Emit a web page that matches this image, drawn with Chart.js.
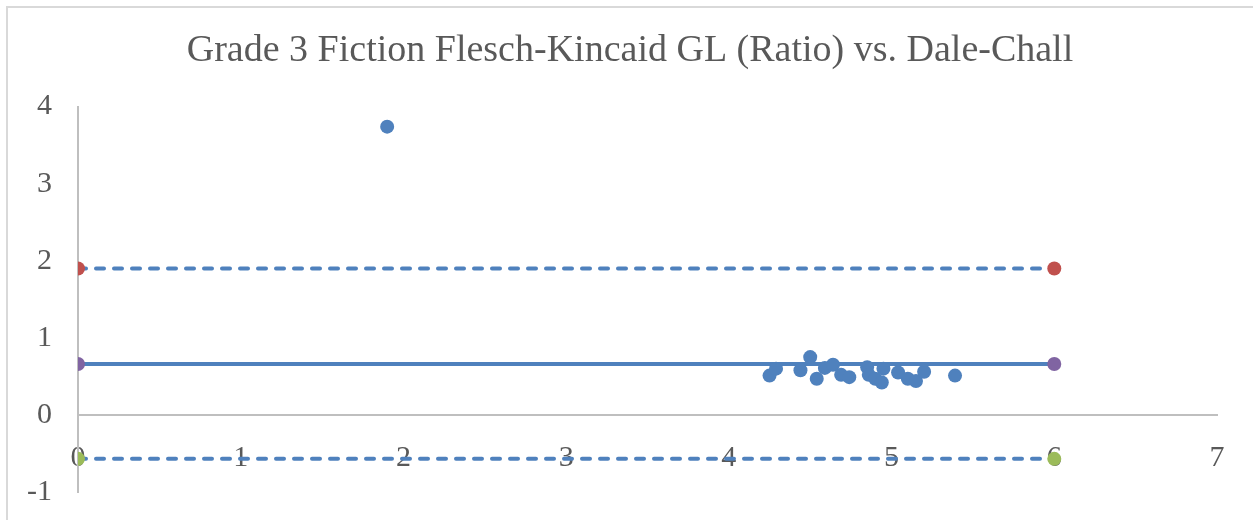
<!DOCTYPE html>
<html>
<head>
<meta charset="utf-8">
<script src="https://cdn.jsdelivr.net/npm/chart.js@4"></script>
<style>
  html, body { margin: 0; padding: 0; background: #ffffff; }
  #wrap { position: relative; width: 1253px; height: 520px; box-sizing: border-box; overflow: hidden; }
  #frame { position: absolute; left: 6px; top: 6px; width: 1260px; height: 530px; border-left: 2px solid #D9D9D9; border-top: 2px solid #D9D9D9; box-sizing: border-box; pointer-events: none; }
  canvas { display: block; }
</style>
</head>
<body>
<div id="wrap">
  <canvas id="c" width="1253" height="536"></canvas>
  <div id="frame"></div>
</div>
<script>
const chartTitle = 'Grade 3 Fiction Flesch-Kincaid GL (Ratio) vs. Dale-Chall';
const xTickValues = [0, 1, 2, 3, 4, 5, 6, 7];
const yTickValues = [-1, 0, 1, 2, 3, 4];

const ratioX = [1.90, 4.25, 4.29, 4.44, 4.50, 4.54, 4.59, 4.64, 4.69, 4.74, 4.85, 4.86, 4.90, 4.94, 4.95, 5.04, 5.10, 5.15, 5.20, 5.39];
const ratioY = [3.74, 0.51, 0.60, 0.58, 0.75, 0.47, 0.61, 0.65, 0.52, 0.49, 0.62, 0.52, 0.47, 0.42, 0.60, 0.55, 0.47, 0.44, 0.56, 0.51];

const lineX = [0, 6];
const meanY = [0.66, 0.66];
const upperY = [1.90, 1.90];
const lowerY = [-0.57, -0.57];

const BLUE = '#4F81BD';
const toPts = (xs, ys) => xs.map((x, i) => ({ x: x, y: ys[i] }));

new Chart(document.getElementById('c'), {
  type: 'scatter',
  data: {
    datasets: [
      {
        label: 'Ratio',
        data: toPts(ratioX, ratioY),
        backgroundColor: BLUE,
        borderColor: BLUE,
        pointRadius: 7,
        pointBorderWidth: 0,
        order: 0
      },
      {
        label: 'Mean',
        data: toPts(lineX, meanY),
        showLine: true,
        borderColor: BLUE,
        borderWidth: 4,
        pointRadius: 7,
        pointBorderWidth: 0,
        pointBackgroundColor: '#8064A2',
        order: 1
      },
      {
        label: 'Upper',
        data: toPts(lineX, upperY),
        showLine: true,
        borderColor: BLUE,
        borderWidth: 4,
        borderDash: [8, 10],
        borderCapStyle: 'round',
        pointRadius: 7,
        pointBorderWidth: 0,
        pointBackgroundColor: '#C0504D',
        order: 2
      },
      {
        label: 'Lower',
        data: toPts(lineX, lowerY),
        showLine: true,
        borderColor: BLUE,
        borderWidth: 4,
        borderDash: [8, 10],
        borderCapStyle: 'round',
        pointRadius: 7,
        pointBorderWidth: 0,
        pointBackgroundColor: '#9BBB59',
        order: 3
      }
    ]
  },
  options: {
    responsive: false,
    animation: false,
    layout: { padding: { left: 7, right: 0, top: 0, bottom: 0 } },
    plugins: {
      legend: { display: false },
      tooltip: { enabled: false },
      title: {
        display: true,
        text: chartTitle,
        color: '#595959',
        font: { family: 'Liberation Serif', size: 38, weight: 'normal' },
        padding: { top: 28, bottom: 33 }
      }
    },
    scales: {
      x: {
        type: 'linear',
        position: { y: 0 },
        min: 0,
        max: 7,
        afterBuildTicks: (axis) => { axis.ticks = xTickValues.map(v => ({ value: v })); },
        grid: { display: false, drawTicks: false },
        border: { display: true, color: '#BFBFBF', width: 2 },
        ticks: {
          color: '#595959',
          font: { family: 'Liberation Serif', size: 30 },
          padding: 25,
          maxRotation: 0
        }
      },
      y: {
        type: 'linear',
        min: -1,
        max: 4,
        afterBuildTicks: (axis) => { axis.ticks = yTickValues.map(v => ({ value: v })); },
        afterFit: (axis) => { axis.width = 71; },
        grid: { display: false, drawTicks: false },
        border: { display: true, color: '#BFBFBF', width: 2 },
        ticks: {
          color: '#595959',
          font: { family: 'Liberation Serif', size: 30 },
          padding: 26
        }
      },
      yRightSpace: {
        type: 'linear',
        position: 'right',
        min: -1,
        max: 4,
        afterFit: (axis) => { axis.width = 36; },
        grid: { display: false, drawTicks: false },
        border: { display: false },
        ticks: { display: false }
      }
    }
  }
});
</script>
</body>
</html>
